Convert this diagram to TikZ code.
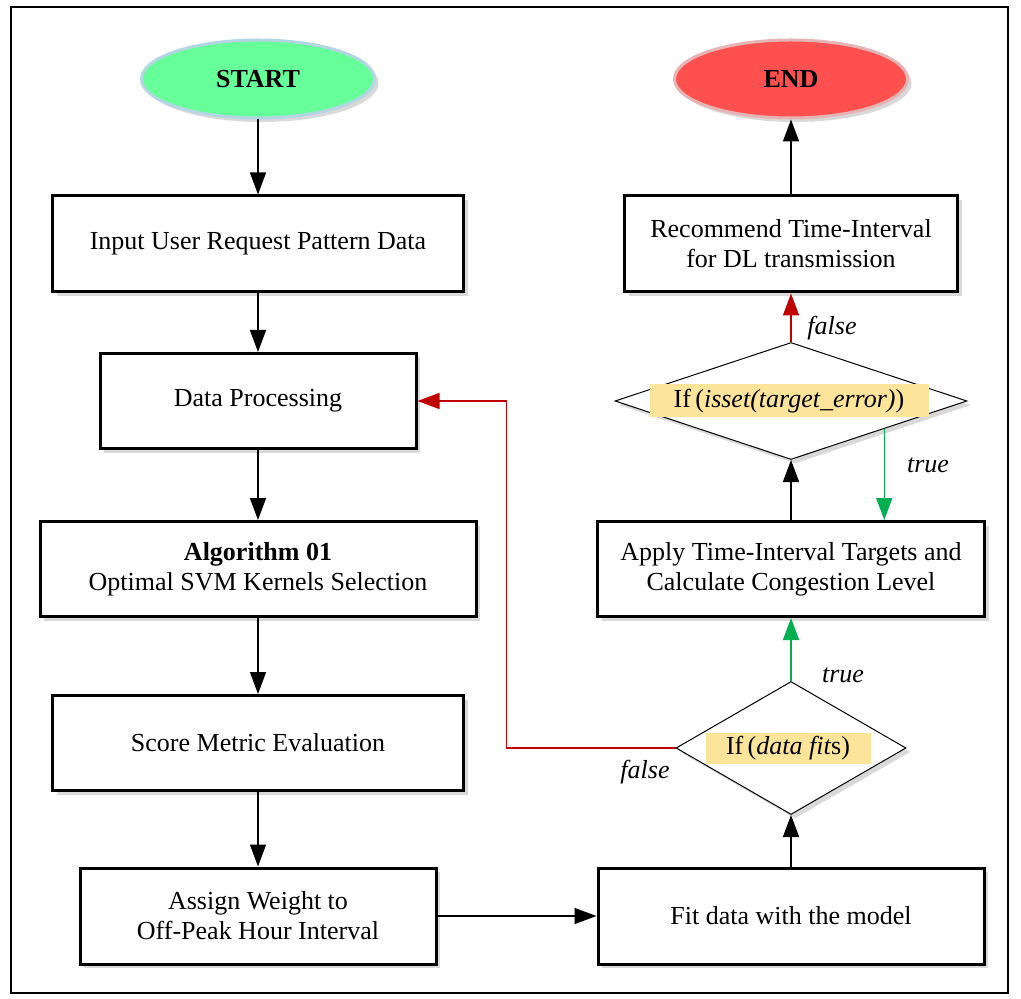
\documentclass[tikz,border=0pt]{standalone}
\usepackage{fontspec}
\setmainfont{Liberation Serif}
\usepackage{xcolor}
\usetikzlibrary{shapes.geometric,arrows.meta,shadows}

\definecolor{startgreen}{HTML}{66FF99}
\definecolor{startrim}{HTML}{B4D6E2}
\definecolor{endred}{HTML}{FF5050}
\definecolor{endrim}{HTML}{E6B4B4}
\definecolor{condfill}{HTML}{FDE49B}
\definecolor{falsered}{HTML}{C00000}
\definecolor{truegreen}{HTML}{00B050}

\begin{document}
\begin{tikzpicture}[x=0.5pt, y=-0.5pt,
  font=\fontsize{13}{15}\selectfont,
  terminal/.style={ellipse, line width=1.5pt, minimum width=116.5pt, minimum height=39pt,
    font=\fontsize{13}{15}\selectfont\bfseries,
    drop shadow={shadow xshift=2pt, shadow yshift=-2pt, opacity=0.3}},
  process/.style={rectangle, draw, line width=1.5pt, fill=white, inner sep=0pt, align=center,
    drop shadow={shadow xshift=2pt, shadow yshift=-2pt, opacity=0.3}},
  decision/.style={diamond, draw, line width=0.5pt, fill=white, inner sep=0pt,
    drop shadow={shadow xshift=2pt, shadow yshift=-2pt, opacity=0.3}},
  condition/.style={fill=condfill, inner sep=0pt},
  flow/.style={-{Triangle[length=11pt,width=8pt]}, line width=0.75pt},
  branch/.style={font=\fontsize{13}{15}\selectfont\itshape}]
  \useasboundingbox (0,0) rectangle (1021,999);
  \draw[line width=0.75pt] (11,7) rectangle (1008,993);

  % left column
  \node[terminal, draw=startrim, fill=startgreen] (start) at (258,79) {START};
  \node[process, minimum width=205.5pt, minimum height=48pt] (input) at (258,244)
    {Input User Request Pattern Data};
  \node[process, minimum width=158pt, minimum height=47.5pt] (proc) at (258,401)
    {Data Processing};
  \node[process, minimum width=218pt, minimum height=47.5pt] (algo) at (258,569)
    {\textbf{Algorithm 01}\\Optimal SVM Kernels Selection};
  \node[process, minimum width=205.5pt, minimum height=47.5pt] (score) at (258,743)
    {Score Metric Evaluation};
  \node[process, minimum width=178pt, minimum height=48pt] (weight) at (258,916)
    {Assign Weight to\\Off-Peak Hour Interval};

  % right column
  \node[process, minimum width=193pt, minimum height=48pt] (fit) at (791,916)
    {Fit data with the model};
  \node[decision, minimum width=115pt, minimum height=66.5pt] (fits) at (791,748) {};
  \node[condition, minimum width=82.5pt, minimum height=15.5pt] (fitstext) at (788,748)
    {If\,(\textit{data fit}s)};
  \node[process, minimum width=193.5pt, minimum height=47.5pt] (apply) at (791,569)
    {Apply Time-Interval Targets and\\Calculate Congestion Level};
  \node[decision, minimum width=176pt, minimum height=58.5pt] (isset) at (791,401) {};
  \node[condition, minimum width=139.5pt, minimum height=16.5pt] (issettext) at (789,401)
    {If\,(\textit{isset(target\_error)})};
  \node[process, minimum width=166.5pt, minimum height=48pt] (recommend) at (791,244)
    {Recommend Time-Interval\\for DL transmission};
  \node[terminal, draw=endrim, fill=endred] (stop) at (791,79) {END};

  % branch labels
  \node[branch] (fitsno) at (645,772) {false};
  \node[branch] (fitsyes) at (843,675) {true};
  \node[branch] (issetyes) at (928,465) {true};
  \node[branch] (issetno) at (832,328) {false};

  % connectors
  \coordinate (issetout) at ([xshift=2.5pt,yshift=0.85pt]isset.south east);
  \draw[flow] (start) -- (input);
  \draw[flow] (input) -- (proc);
  \draw[flow] (proc) -- (algo);
  \draw[flow] (algo) -- (score);
  \draw[flow] (score) -- (weight);
  \draw[flow] (weight) -- (fit);
  \draw[flow] (fit) -- (fits);
  \draw[flow, color=truegreen] (fits) -- (apply);
  \draw[flow, color=falsered] (fits.west) -- ++(-169,0) |- (proc.east);
  \draw[flow] (apply) -- (isset);
  \draw[flow, color=truegreen] (issetout) -- (issetout |- apply.north);
  \draw[flow, color=falsered] (isset) -- (recommend);
  \draw[flow] (recommend) -- (stop);
\end{tikzpicture}
\end{document}
